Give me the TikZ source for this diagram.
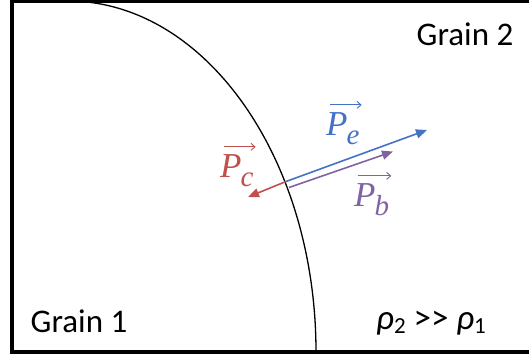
\documentclass[tikz,border=0pt]{standalone}
\usepackage{fontspec}
\setmainfont{Carlito}
\newfontfamily\pfont{Liberation Serif}
\usetikzlibrary{arrows.meta}
\definecolor{pblue}{RGB}{68,114,196}
\definecolor{pred}{RGB}{192,80,77}
\definecolor{ppurple}{RGB}{128,100,162}
\newcommand{\psub}[1]{\kern-1pt\raisebox{-9pt}{\fontsize{29}{29}\selectfont\itshape #1}}
\newcommand{\nsub}[1]{\raisebox{-4pt}{\fontsize{23}{23}\selectfont #1}}
\tikzset{
  vec/.style={line width=1.6pt,-{Triangle[length=11pt,width=9pt]}},
  ovec/.style={line width=0.9pt,-{Straight Barb[length=4pt,width=7pt]}},
  lbl/.style={inner sep=0pt,font=\fontsize{33}{38}\selectfont},
  vlbl/.style={inner sep=0pt,anchor=base west,font=\fontsize{35}{40}\pfont\itshape}
}
\begin{document}
\begin{tikzpicture}[x=1pt,y=-1pt]
\useasboundingbox (0,0) rectangle (529,356);
\fill[white] (0,0) rectangle (529,356);
% frame
\draw[line width=4pt] (540,0.5) -- (12,0.5) -- (12,352) -- (540,352);
% grain boundary
\begin{scope}
  \clip (68,0) rectangle (529,352);
  \draw[line width=1.3pt] (68,352) ellipse [x radius=248pt, y radius=351pt];
\end{scope}
% vectors
\coordinate (O) at (286,181.5);
\coordinate (Ob) at (289,187.5);
\coordinate (Ee) at (427,130);
\coordinate (Ec) at (248,197);
\coordinate (Eb) at (393,151.5);
\draw[vec,pblue] (O) -- (Ee);
\draw[vec,pred] (O) -- (Ec);
\draw[vec,ppurple] (Ob) -- (Eb);
% labels
\node[vlbl,text=pblue] (Le) at (326,135) {P\psub{e}};
\node[vlbl,text=pred] (Lc) at (220,177) {P\psub{c}};
\node[vlbl,text=ppurple] (Lb) at (354,206) {P\psub{b}};
\draw[ovec,pblue] ([shift={(4pt,7pt)}]Le.north west) -- ([shift={(2pt,7pt)}]Le.north east);
\draw[ovec,pred] ([shift={(4pt,7pt)}]Lc.north west) -- ([shift={(2pt,7pt)}]Lc.north east);
\draw[ovec,ppurple] ([shift={(4pt,7pt)}]Lb.north west) -- ([shift={(2pt,7pt)}]Lb.north east);
\node[lbl,anchor=base] (g2) at (465,45.5) {Grain 2};
\node[lbl,anchor=base] (g1) at (79,332) {Grain 1};
\node[lbl,anchor=base west,font=\fontsize{35}{40}\selectfont] (rho) at (376,329) {\textit{ρ}\nsub{2} >\kern0pt> \textit{ρ}\nsub{1}};
\end{tikzpicture}
\end{document}
